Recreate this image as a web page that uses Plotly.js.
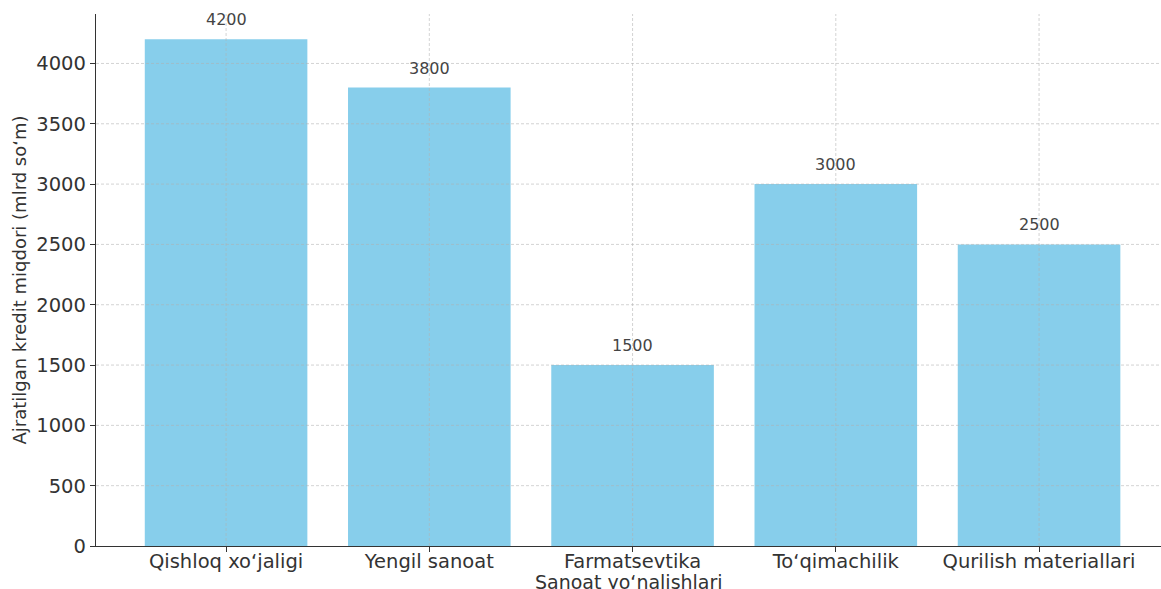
<!DOCTYPE html>
<html>
<head>
<meta charset="utf-8">
<script src="https://cdn.plot.ly/plotly-3.0.1.min.js"></script>
<style>html,body{margin:0;padding:0;background:#fff;overflow:hidden}</style>
</head>
<body>
<div id="chart" style="width:1161px;height:589px"></div>
<script>
const categories = ["Qishloq xo‘jaligi", "Yengil sanoat", "Farmatsevtika", "To‘qimachilik", "Qurilish materiallari"];
const credits = [4200, 3800, 1500, 3000, 2500];
const yTicks = [0, 500, 1000, 1500, 2000, 2500, 3000, 3500, 4000];

const font = "DejaVu Sans, sans-serif";
const gridStyle = {color: "rgba(176,176,176,0.7)", width: 0.8, dash: "3px,2px"};

const shapes = [];
yTicks.forEach(v => {
  if (v === 0) return;
  shapes.push({type: "line", layer: "above", xref: "paper", yref: "y", x0: 0, x1: 1, y0: v, y1: v, line: gridStyle});
});
categories.forEach((c, i) => {
  shapes.push({type: "line", layer: "above", xref: "x", yref: "paper", x0: i, x1: i, y0: 0, y1: 1, line: gridStyle});
});

const annotations = categories.map((c, i) => ({
  x: i, y: credits[i], xref: "x", yref: "y", text: String(credits[i]),
  showarrow: false, yanchor: "bottom", yshift: 8,
  font: {family: font, size: 16, color: "#444"}
}));
annotations.push({
  xref: "paper", yref: "paper", x: 0.5, y: 0, xanchor: "center", yanchor: "top",
  yshift: -23, showarrow: false, text: "Sanoat yo‘nalishlari",
  font: {family: font, size: 19, color: "#333"}
});

const data = [{
  type: "bar",
  x: categories.map((c, i) => i),
  y: credits,
  width: 0.8,
  marker: {color: "#87CEEB", line: {width: 0}},
  hoverinfo: "x+y",
  cliponaxis: false
}];

const layout = {
  width: 1161, height: 589,
  margin: {l: 96, r: 0, t: 14, b: 43},
  paper_bgcolor: "#fff", plot_bgcolor: "#fff",
  showlegend: false,
  font: {family: font, color: "#333"},
  xaxis: {
    range: [-0.64, 4.6],
    tickvals: categories.map((c, i) => i),
    ticktext: categories,
    showgrid: false, zeroline: false,
    showline: true, linecolor: "#333", linewidth: 1.2,
    ticks: "outside", ticklen: 5, tickcolor: "#333",
    ticklabelstandoff: -8,
    tickfont: {family: font, size: 19.5, color: "#333"}
  },
  yaxis: {
    range: [0, 4410],
    tickvals: yTicks,
    showgrid: false, zeroline: false,
    showline: true, linecolor: "#333", linewidth: 1.2,
    ticks: "outside", ticklen: 5, tickcolor: "#333",
    tickfont: {family: font, size: 19.5, color: "#333"},
    title: {text: "Ajratilgan kredit miqdori (mlrd so‘m)", font: {family: font, size: 18, color: "#333"}, standoff: 5}
  },
  shapes: shapes,
  annotations: annotations
};

Plotly.newPlot("chart", data, layout, {displayModeBar: false, staticPlot: true});
</script>
</body>
</html>
